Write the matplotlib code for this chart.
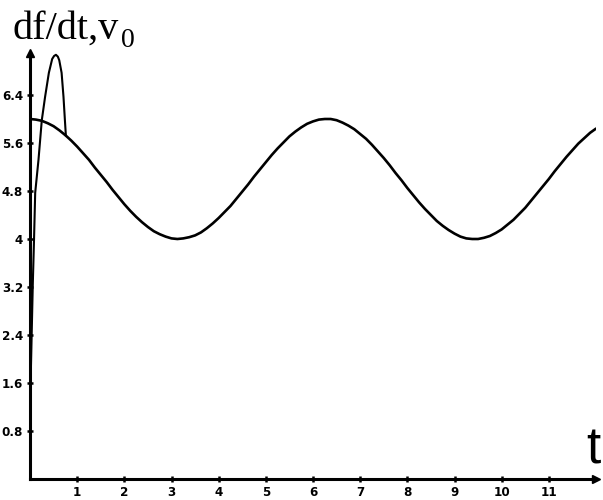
import matplotlib
matplotlib.use('Agg')
import matplotlib.pyplot as plt
import numpy as np

# v0(t): slow oscillation, every 0.125 of t
t_vals = np.arange(0, 12.001, 0.125)
v0_vals = [6.00, 5.99, 5.97, 5.93, 5.88, 5.81, 5.73, 5.64, 5.54, 5.43, 5.32, 5.19,
           5.07, 4.95, 4.82, 4.70, 4.58, 4.47, 4.37, 4.28, 4.20, 4.13, 4.08, 4.04,
           4.01, 4.00, 4.01, 4.03, 4.06, 4.11, 4.18, 4.26, 4.35, 4.45, 4.55, 4.67,
           4.79, 4.91, 5.04, 5.16, 5.28, 5.40, 5.51, 5.61, 5.71, 5.79, 5.86, 5.92,
           5.96, 5.99, 6.00, 6.00, 5.98, 5.94, 5.89, 5.83, 5.75, 5.67, 5.57, 5.46,
           5.35, 5.23, 5.10, 4.98, 4.85, 4.73, 4.61, 4.50, 4.40, 4.30, 4.22, 4.15,
           4.09, 4.04, 4.01, 4.00, 4.00, 4.02, 4.05, 4.10, 4.16, 4.24, 4.32, 4.42,
           4.52, 4.64, 4.76, 4.88, 5.00, 5.13, 5.25, 5.37, 5.48, 5.59, 5.68, 5.77,
           5.84]

# df/dt: the short spike at the start
spike_t = [0.01, 0.02, 0.06, 0.085, 0.11, 0.18, 0.25, 0.32, 0.40, 0.47, 0.51, 0.55,
           0.59, 0.62, 0.67, 0.71, 0.74, 0.76]
spike_v = [1.5, 1.87, 3.27, 3.98, 4.77, 5.32, 5.98, 6.37, 6.77, 7.0, 7.05, 7.07,
           7.04, 6.98, 6.77, 6.37, 5.98, 5.73]

xticks = [1, 2, 3, 4, 5, 6, 7, 8, 9, 10, 11]
yticks = [0.8, 1.6, 2.4, 3.2, 4, 4.8, 5.6, 6.4]
ytick_labels = ['0.8', '1.6', '2.4', '3.2', '4', '4.8', '5.6', '6.4']

fig = plt.figure(figsize=(6.03, 5.0), dpi=100)
ax = fig.add_axes([30 / 603, 21 / 500, 566 / 603, 426 / 500])

ax.plot(t_vals, v0_vals, color='black', lw=1.9, solid_capstyle='round')
ax.plot(spike_t, spike_v, color='black', lw=1.5)

ax.set_xlim(0, 12.0)
ax.set_ylim(0, 7.1)

for s in ['top', 'right']:
    ax.spines[s].set_visible(False)
for s in ['left', 'bottom']:
    ax.spines[s].set_linewidth(2.2)

tick_font = dict(family='DejaVu Sans', weight='bold', stretch='condensed', size=9.5)
ax.set_xticks(xticks)
ax.set_xticklabels([str(v) for v in xticks], fontdict=tick_font)
ax.set_yticks(yticks)
ax.set_yticklabels(ytick_labels, fontdict=tick_font)
ax.tick_params(direction='inout', length=4, width=1.8, pad=3)

# arrow heads on the axes
ax.plot([0], [1], marker='^', ms=6, color='black', transform=ax.transAxes, clip_on=False)
ax.plot([1], [0], marker='>', ms=6, color='black', transform=ax.transAxes, clip_on=False)

# axis captions
fig.text(13 / 603, 1 - 39 / 500, 'df/dt,v', family='Liberation Serif', size=29,
         va='baseline', ha='left')
fig.text(121 / 603, 1 - 47 / 500, '0', family='Liberation Serif', size=20,
         va='baseline', ha='left')
fig.text(586 / 603, 1 - 463 / 500, 't', family='Liberation Sans', size=37,
         va='baseline', ha='left')

fig.savefig('out.png', dpi=100)
